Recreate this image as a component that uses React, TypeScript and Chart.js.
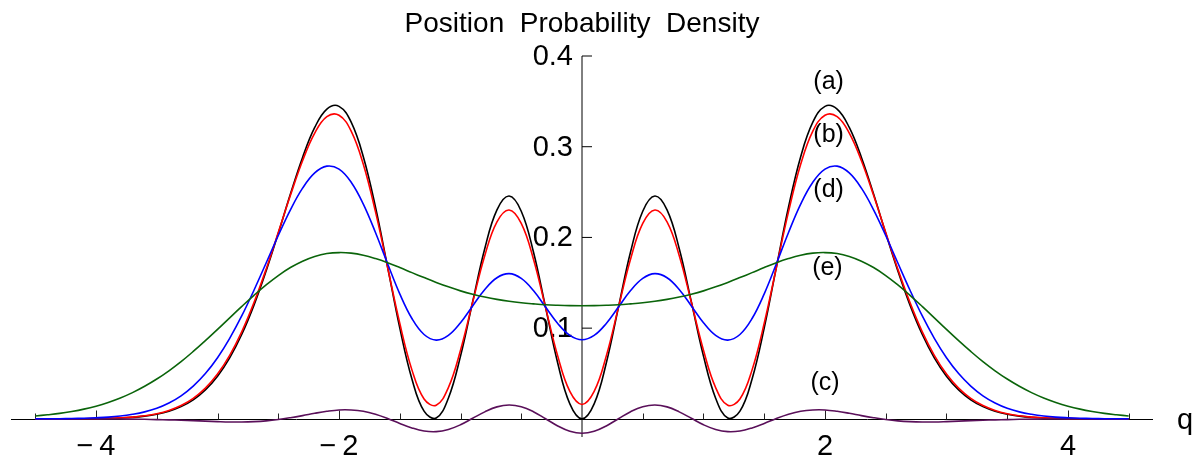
import React, { useEffect, useRef } from "react";
import { Chart, registerables } from "chart.js";

Chart.register(...registerables);

// position q (x values)
const Q = [
  -4.5, -4.4, -4.3, -4.2, -4.1, -4.0, -3.9, -3.8, -3.7, -3.6, -3.5, -3.4, -3.3, -3.2, -3.1,
  -3.0, -2.9, -2.8, -2.7, -2.6, -2.5, -2.4, -2.3, -2.2, -2.1, -2.0, -1.9, -1.8, -1.7, -1.6,
  -1.5, -1.4, -1.3, -1.2, -1.1, -1.0, -0.9, -0.8, -0.7, -0.6, -0.5, -0.4, -0.3, -0.2, -0.1,
  0,
  0.1, 0.2, 0.3, 0.4, 0.5, 0.6, 0.7, 0.8, 0.9, 1.0, 1.1, 1.2, 1.3, 1.4, 1.5,
  1.6, 1.7, 1.8, 1.9, 2.0, 2.1, 2.2, 2.3, 2.4, 2.5, 2.6, 2.7, 2.8, 2.9, 3.0,
  3.1, 3.2, 3.3, 3.4, 3.5, 3.6, 3.7, 3.8, 3.9, 4.0, 4.1, 4.2, 4.3, 4.4, 4.5,
];

// (a) black
const densityA = [
  0, 0, 0, 0.0001, 0.0001, 0.0003, 0.0005, 0.0010, 0.0017, 0.0030, 0.0051, 0.0084, 0.0135, 0.0210, 0.0319,
  0.0470, 0.0672, 0.0933, 0.1254, 0.1631, 0.2047, 0.2478, 0.2882, 0.3212, 0.3415, 0.3445, 0.3270, 0.2890, 0.2335, 0.1673,
  0.1003, 0.0440, 0.0085, 0.0009, 0.0228, 0.0692, 0.1291, 0.1878, 0.2304, 0.2456, 0.2289, 0.1842, 0.1230, 0.0616, 0.0165,
  0,
  0.0165, 0.0616, 0.1230, 0.1842, 0.2289, 0.2456, 0.2304, 0.1878, 0.1291, 0.0692, 0.0228, 0.0009, 0.0085, 0.0440, 0.1003,
  0.1673, 0.2335, 0.2890, 0.3270, 0.3445, 0.3415, 0.3212, 0.2882, 0.2478, 0.2047, 0.1631, 0.1254, 0.0933, 0.0672, 0.0470,
  0.0319, 0.0210, 0.0135, 0.0084, 0.0051, 0.0030, 0.0017, 0.0010, 0.0005, 0.0003, 0.0001, 0.0001, 0, 0, 0,
];

// (b) red
const densityB = [
  0, 0, 0, 0.0001, 0.0002, 0.0003, 0.0006, 0.0011, 0.0019, 0.0034, 0.0057, 0.0093, 0.0147, 0.0226, 0.0339,
  0.0494, 0.0700, 0.0962, 0.1281, 0.1650, 0.2054, 0.2465, 0.2846, 0.3151, 0.3332, 0.3347, 0.3172, 0.2806, 0.2284, 0.1669,
  0.1054, 0.0540, 0.0219, 0.0150, 0.0345, 0.0757, 0.1285, 0.1801, 0.2172, 0.2303, 0.2155, 0.1763, 0.1229, 0.0694, 0.0302,
  0.0159,
  0.0302, 0.0694, 0.1229, 0.1763, 0.2155, 0.2303, 0.2172, 0.1801, 0.1285, 0.0757, 0.0345, 0.0150, 0.0219, 0.0540, 0.1054,
  0.1669, 0.2284, 0.2806, 0.3172, 0.3347, 0.3332, 0.3151, 0.2846, 0.2465, 0.2054, 0.1650, 0.1281, 0.0962, 0.0700, 0.0494,
  0.0339, 0.0226, 0.0147, 0.0093, 0.0057, 0.0034, 0.0019, 0.0011, 0.0006, 0.0003, 0.0002, 0.0001, 0, 0, 0,
];

// (c) purple
const densityC = [
  0, 0, 0, 0, 0, 0, -0.0001, -0.0002, -0.0003, -0.0005, -0.0008, -0.0011, -0.0015, -0.0020, -0.0025,
  -0.0030, -0.0034, -0.0035, -0.0031, -0.0022, -0.0007, 0.0013, 0.0036, 0.0061, 0.0083, 0.0098, 0.0098, 0.0084, 0.0051, 0.0004,
  -0.0051, -0.0100, -0.0134, -0.0141, -0.0117, -0.0065, 0.0006, 0.0077, 0.0132, 0.0153, 0.0134, 0.0079, 0.0001, -0.0078, -0.0137,
  -0.0159,
  -0.0137, -0.0078, 0.0001, 0.0079, 0.0134, 0.0153, 0.0132, 0.0077, 0.0006, -0.0065, -0.0117, -0.0141, -0.0134, -0.0100, -0.0051,
  0.0004, 0.0051, 0.0084, 0.0098, 0.0098, 0.0083, 0.0061, 0.0036, 0.0013, -0.0007, -0.0022, -0.0031, -0.0035, -0.0034, -0.0030,
  -0.0025, -0.0020, -0.0015, -0.0011, -0.0008, -0.0005, -0.0003, -0.0002, -0.0001, 0, 0, 0, 0, 0, 0,
];

// (d) blue
const densityD = [
  0.0001, 0.0001, 0.0002, 0.0004, 0.0007, 0.0012, 0.0019, 0.0031, 0.0050, 0.0077, 0.0117, 0.0175, 0.0254, 0.0361, 0.0499,
  0.0674, 0.0888, 0.1137, 0.1418, 0.1718, 0.2021, 0.2304, 0.2543, 0.2711, 0.2786, 0.2753, 0.2609, 0.2368, 0.2055, 0.1710,
  0.1378, 0.1106, 0.0930, 0.0868, 0.0920, 0.1059, 0.1245, 0.1427, 0.1556, 0.1601, 0.1548, 0.1414, 0.1232, 0.1052, 0.0920,
  0.0872,
  0.0920, 0.1052, 0.1232, 0.1414, 0.1548, 0.1601, 0.1556, 0.1427, 0.1245, 0.1059, 0.0920, 0.0868, 0.0930, 0.1106, 0.1378,
  0.1710, 0.2055, 0.2368, 0.2609, 0.2753, 0.2786, 0.2711, 0.2543, 0.2304, 0.2021, 0.1718, 0.1418, 0.1137, 0.0888, 0.0674,
  0.0499, 0.0361, 0.0254, 0.0175, 0.0117, 0.0077, 0.0050, 0.0031, 0.0019, 0.0012, 0.0007, 0.0004, 0.0002, 0.0001, 0.0001,
];

// (e) green
const densityE = [
  0.0032, 0.0045, 0.0060, 0.0081, 0.0107, 0.0140, 0.0181, 0.0230, 0.0289, 0.0359, 0.0439, 0.0530, 0.0631, 0.0743, 0.0862,
  0.0986, 0.1114, 0.1240, 0.1362, 0.1477, 0.1580, 0.1668, 0.1738, 0.1790, 0.1822, 0.1833, 0.1827, 0.1804, 0.1767, 0.1721,
  0.1668, 0.1612, 0.1557, 0.1504, 0.1455, 0.1411, 0.1374, 0.1343, 0.1317, 0.1296, 0.1280, 0.1268, 0.1258, 0.1252, 0.1248,
  0.1247,
  0.1248, 0.1252, 0.1258, 0.1268, 0.1280, 0.1296, 0.1317, 0.1343, 0.1374, 0.1411, 0.1455, 0.1504, 0.1557, 0.1612, 0.1668,
  0.1721, 0.1767, 0.1804, 0.1827, 0.1833, 0.1822, 0.1790, 0.1738, 0.1668, 0.1580, 0.1477, 0.1362, 0.1240, 0.1114, 0.0986,
  0.0862, 0.0743, 0.0631, 0.0530, 0.0439, 0.0359, 0.0289, 0.0230, 0.0181, 0.0140, 0.0107, 0.0081, 0.0060, 0.0045, 0.0032,
];

const TITLE = "Position  Probability  Density";
const X_AXIS_LABEL = "q";
const X_MAJOR_TICKS = [-4, -2, 2, 4];
const X_MAJOR_LABELS = ["\u2212\u20094", "\u2212\u20092", "2", "4"];
const X_MINOR_TICKS = [-4.5, -3.5, -3, -2.5, -1.5, -1, -0.5, 0.5, 1, 1.5, 2.5, 3, 3.5, 4.5];
const Y_TICKS = [0.1, 0.2, 0.3, 0.4];
const Y_LABELS = ["0.1", "0.2", "0.3", "0.4"];
const CURVE_LABELS = ["(a)", "(b)", "(d)", "(e)", "(c)"];
const CURVE_LABEL_X = [2.03, 2.03, 2.03, 2.02, 2.0];
const CURVE_LABEL_Y = [0.3716, 0.3131, 0.2525, 0.1665, 0.0397];

const X_MIN = -4.7;
const X_MAX = 4.7;
const Y_MIN = -0.02;
const Y_MAX = 0.4;

const FONT = '"Liberation Sans", Arial, Helvetica, sans-serif';

const axesPlugin = {
  id: "mmaAxes",
  beforeDatasetsDraw(chart: any) {
    const { ctx, chartArea, scales } = chart;
    const xs = scales.x;
    const ys = scales.y;
    const x0 = xs.getPixelForValue(0);
    const y0 = Math.round(ys.getPixelForValue(0)) + 0.5;
    ctx.save();
    // y axis (vertical line)
    ctx.strokeStyle = "#000";
    ctx.lineWidth = 1;
    ctx.beginPath();
    ctx.moveTo(x0, ys.getPixelForValue(Y_MIN));
    ctx.lineTo(x0, ys.getPixelForValue(Y_MAX));
    ctx.stroke();
    // y ticks
    Y_TICKS.forEach((v) => {
      const py = ys.getPixelForValue(v);
      ctx.beginPath();
      ctx.moveTo(x0, py);
      ctx.lineTo(x0 + 10, py);
      ctx.stroke();
    });
    // x axis
    ctx.beginPath();
    ctx.moveTo(chartArea.left, y0);
    ctx.lineTo(chartArea.right, y0);
    ctx.stroke();
    // x ticks
    ctx.strokeStyle = "#222";
    X_MAJOR_TICKS.forEach((v) => {
      const px = Math.round(xs.getPixelForValue(v)) + 0.5;
      ctx.beginPath();
      ctx.moveTo(px, y0);
      ctx.lineTo(px, y0 - 9);
      ctx.stroke();
    });
    X_MINOR_TICKS.forEach((v) => {
      const px = Math.round(xs.getPixelForValue(v)) + 0.5;
      ctx.beginPath();
      ctx.moveTo(px, y0);
      ctx.lineTo(px, y0 - 6);
      ctx.stroke();
    });
    // tick labels
    ctx.fillStyle = "#000";
    ctx.font = `29px ${FONT}`;
    ctx.textAlign = "right";
    ctx.textBaseline = "middle";
    Y_TICKS.forEach((v, i) => {
      ctx.fillText(Y_LABELS[i], x0 - 9, ys.getPixelForValue(v) + 1);
    });
    ctx.textAlign = "center";
    ctx.textBaseline = "alphabetic";
    X_MAJOR_TICKS.forEach((v, i) => {
      ctx.fillText(X_MAJOR_LABELS[i], xs.getPixelForValue(v), y0 + 35);
    });
    // axis label q
    ctx.textAlign = "left";
    ctx.fillText(X_AXIS_LABEL, chartArea.right + 24, y0 + 9);
    ctx.restore();
  },
  afterDatasetsDraw(chart: any) {
    const { ctx, scales } = chart;
    const xs = scales.x;
    const ys = scales.y;
    ctx.save();
    ctx.fillStyle = "#000";
    ctx.font = `25px ${FONT}`;
    ctx.textAlign = "center";
    ctx.textBaseline = "middle";
    CURVE_LABELS.forEach((t, i) => {
      ctx.fillText(t, xs.getPixelForValue(CURVE_LABEL_X[i]), ys.getPixelForValue(CURVE_LABEL_Y[i]));
    });
    // title
    ctx.font = `28px ${FONT}`;
    ctx.textBaseline = "alphabetic";
    ctx.fillText(TITLE, xs.getPixelForValue(0), 32);
    ctx.restore();
  },
};

export default function App() {
  const ref = useRef<HTMLCanvasElement>(null);
  useEffect(() => {
    const canvas = ref.current;
    if (!canvas) return;
    const pts = (vals: number[]) => Q.map((q, i) => ({ x: q, y: vals[i] }));
    const common = {
      borderWidth: 1.6,
      pointRadius: 0,
      pointHoverRadius: 0,
      tension: 0.4,
      fill: false,
    };
    const chart = new Chart(canvas, {
      type: "line",
      data: {
        datasets: [
          { label: "(e)", data: pts(densityE), borderColor: "#0a640a", ...common },
          { label: "(d)", data: pts(densityD), borderColor: "#0000ff", ...common },
          { label: "(c)", data: pts(densityC), borderColor: "#5a105a", ...common },
          { label: "(b)", data: pts(densityB), borderColor: "#ff0000", ...common },
          { label: "(a)", data: pts(densityA), borderColor: "#000000", ...common },
        ],
      },
      options: {
        animation: false,
        responsive: false,
        maintainAspectRatio: false,
        events: [],
        layout: { padding: { left: 11, right: 45, top: 56, bottom: 24 } },
        plugins: {
          legend: { display: false },
          tooltip: { enabled: false },
          title: { display: false },
        },
        scales: {
          x: { type: "linear", min: X_MIN, max: X_MAX, display: false },
          y: { type: "linear", min: Y_MIN, max: Y_MAX, display: false },
        },
      },
      plugins: [axesPlugin],
    } as any);
    return () => chart.destroy();
  }, []);
  return (
    <div style={{ position: "absolute", left: 0, top: 0, width: 1198, height: 461, background: "#fff" }}>
      <canvas ref={ref} width={1198} height={461} style={{ display: "block" }} />
    </div>
  );
}
